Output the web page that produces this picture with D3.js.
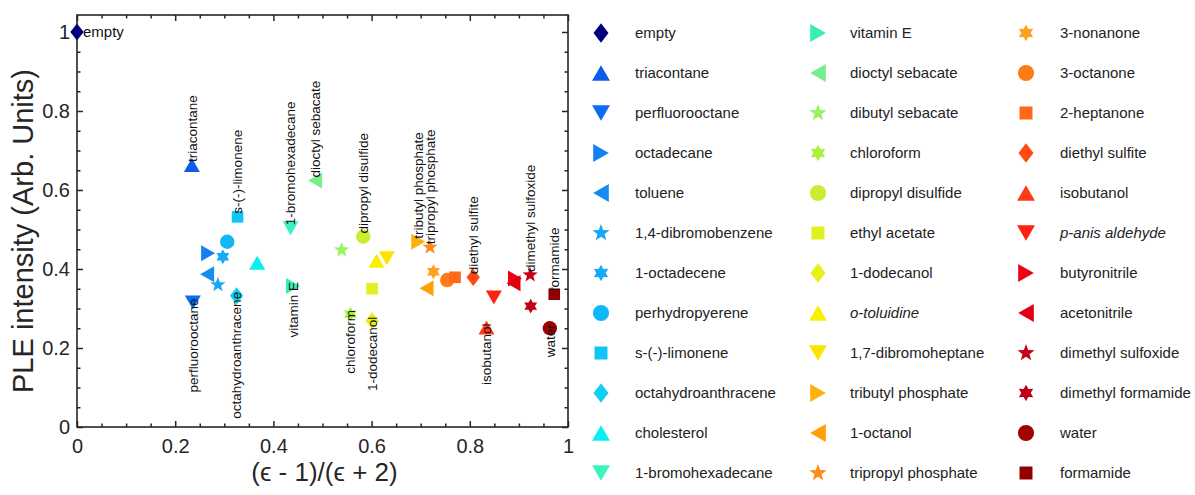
<!DOCTYPE html>
<html>
<head>
<meta charset="utf-8">
<script src="https://cdn.jsdelivr.net/npm/d3@7"></script>
<style>
  body { margin: 0; background: #fff; }
  text { font-family: "Liberation Sans", Arial, sans-serif; }
</style>
</head>
<body>
<svg id="chart" width="1195" height="495"></svg>
<script>
// Solvents in legend order, with the Clausius–Mossotti factor (ε-1)/(ε+2)
// and the normalised PLE intensity measured in each.
const solvents = [
  "empty", "triacontane", "perfluorooctane", "octadecane", "toluene",
  "1,4-dibromobenzene", "1-octadecene", "perhydropyerene", "s-(-)-limonene",
  "octahydroanthracene", "cholesterol", "1-bromohexadecane",
  "vitamin E", "dioctyl sebacate", "dibutyl sebacate", "chloroform",
  "dipropyl disulfide", "ethyl acetate", "1-dodecanol", "o-toluidine",
  "1,7-dibromoheptane", "tributyl phosphate", "1-octanol", "tripropyl phosphate",
  "3-nonanone", "3-octanone", "2-heptanone", "diethyl sulfite", "isobutanol",
  "p-anis aldehyde", "butyronitrile", "acetonitrile", "dimethyl sulfoxide",
  "dimethyl formamide", "water", "formamide"
];

const epsFactor = [
  0.000, 0.234, 0.236, 0.267, 0.265,
  0.287, 0.297, 0.306, 0.327,
  0.325, 0.367, 0.435,
  0.440, 0.485, 0.539, 0.557,
  0.583, 0.601, 0.601, 0.610,
  0.631, 0.695, 0.712, 0.719,
  0.726, 0.754, 0.770, 0.807, 0.834,
  0.849, 0.892, 0.889, 0.923,
  0.924, 0.963, 0.972
];

const pleIntensity = [
  1.000, 0.663, 0.315, 0.440, 0.387,
  0.360, 0.431, 0.469, 0.532,
  0.332, 0.416, 0.503,
  0.357, 0.624, 0.448, 0.286,
  0.482, 0.350, 0.269, 0.421,
  0.427, 0.469, 0.351, 0.455,
  0.393, 0.372, 0.379, 0.379, 0.252,
  0.328, 0.376, 0.364, 0.385,
  0.306, 0.250, 0.336
];

const xTickValues = [0, 0.2, 0.4, 0.6, 0.8, 1];
const xTickLabels = ["0", "0.2", "0.4", "0.6", "0.8", "1"];
const yTickValues = [0, 0.2, 0.4, 0.6, 0.8, 1];
const yTickLabels = ["0", "0.2", "0.4", "0.6", "0.8", "1"];

// Which points carry an in-plot name, and on which side of the marker.
const labelsAbove = ["triacontane", "s-(-)-limonene", "1-bromohexadecane", "dioctyl sebacate",
  "dipropyl disulfide", "tributyl phosphate", "tripropyl phosphate", "diethyl sulfite",
  "dimethyl sulfoxide", "formamide"];
const labelsBelow = ["perfluorooctane", "octahydroanthracene", "vitamin E", "chloroform",
  "1-dodecanol", "isobutanol", "water"];
const labelsRight = ["empty"];
const italicNames = ["o-toluidine", "p-anis aldehyde"];

// Marker cycle and colour ramp (navy → blue → cyan → green → yellow → orange → red).
const markerCycle = ["diamond", "up", "down", "right", "left", "star", "hexagram", "circle", "square"];
const palette = [
  "#00007f", "#0c5ee8", "#0a6cf2", "#1580f0", "#178cf0",
  "#18a6f6", "#14acf6", "#10b8f8", "#10c6f4",
  "#10d0f2", "#00f2f2", "#3cf2c0",
  "#38eea8", "#76ee8e", "#98f45e", "#aaf040",
  "#c8ee30", "#e0f020", "#e8f018", "#f8f000",
  "#fce400", "#ffb010", "#ffa008", "#ff8c1a",
  "#ffa020", "#ff7a18", "#ff6a18", "#ff4a14", "#ff3a14",
  "#ff2210", "#f00014", "#e00012", "#c80018",
  "#c00018", "#a00000", "#900000"
];

const W = 1195, H = 495;
const plot = { left: 77, right: 568, top: 15, bottom: 427 };
const ink = "#262626";

const svg = d3.select("#chart");
const x = d3.scaleLinear().domain([0, 1]).range([plot.left, plot.right]);
const y = d3.scaleLinear().domain([0, 1.043]).range([plot.bottom, plot.top]);

function shapePath(kind, s) {
  const p = d3.path();
  const poly = pts => { p.moveTo(pts[0][0], pts[0][1]); pts.slice(1).forEach(q => p.lineTo(q[0], q[1])); p.closePath(); };
  const b = 16 * s, h = 14 * s;
  switch (kind) {
    case "diamond": { const w = 6.7 * s, t = 8.6 * s; poly([[0, -t], [w, 0], [0, t], [-w, 0]]); break; }
    case "up":    poly([[0, -h / 2], [b / 2, h / 2], [-b / 2, h / 2]]); break;
    case "down":  poly([[0, h / 2], [b / 2, -h / 2], [-b / 2, -h / 2]]); break;
    case "right": poly([[h / 2, 0], [-h / 2, -b / 2], [-h / 2, b / 2]]); break;
    case "left":  poly([[-h / 2, 0], [h / 2, -b / 2], [h / 2, b / 2]]); break;
    case "circle": p.arc(0, 0, 7.2 * s, 0, 2 * Math.PI); break;
    case "square": { const a = 5.8 * s; poly([[-a, -a], [a, -a], [a, a], [-a, a]]); break; }
    case "star": {
      const R = 8 * s, r = 3.3 * s, pts = [];
      for (let i = 0; i < 10; i++) {
        const ang = -Math.PI / 2 + i * Math.PI / 5, rad = i % 2 ? r : R;
        pts.push([rad * Math.cos(ang), rad * Math.sin(ang)]);
      }
      poly(pts); break;
    }
    case "hexagram": {
      const R = 7.4 * s, r = 4.2 * s, pts = [];
      for (let i = 0; i < 12; i++) {
        const ang = -Math.PI / 2 + i * Math.PI / 6, rad = i % 2 ? r : R;
        pts.push([rad * Math.cos(ang), rad * Math.sin(ang)]);
      }
      poly(pts); break;
    }
  }
  return p.toString();
}

const points = solvents.map((name, i) => ({
  name, ex: epsFactor[i], ple: pleIntensity[i],
  shape: markerCycle[i % markerCycle.length], color: palette[i]
}));

// ---- axes: inward major and minor ticks on all four sides ----
const minorTicks = d3.range(0, 1.0001, 0.05).map(v => +v.toFixed(2)).filter(v => !xTickValues.includes(v));
const minorY = minorTicks.filter(v => v <= 1.04);

function styleAxis(g) {
  g.select(".domain").remove();
  g.selectAll(".tick line").attr("stroke", ink).attr("stroke-width", 1.5);
  g.selectAll(".tick text").attr("fill", ink).style("font-size", "20px");
}

svg.append("g").attr("transform", `translate(0,${plot.bottom})`)
  .call(d3.axisBottom(x).tickValues(xTickValues).tickFormat((d, i) => xTickLabels[i]).tickSize(-6).tickPadding(12))
  .call(styleAxis);
svg.append("g").attr("transform", `translate(0,${plot.bottom})`)
  .call(d3.axisBottom(x).tickValues(minorTicks).tickFormat("").tickSize(-3.5)).call(styleAxis);
svg.append("g").attr("transform", `translate(0,${plot.top})`)
  .call(d3.axisTop(x).tickValues(xTickValues).tickFormat("").tickSize(-6)).call(styleAxis);
svg.append("g").attr("transform", `translate(0,${plot.top})`)
  .call(d3.axisTop(x).tickValues(minorTicks).tickFormat("").tickSize(-3.5)).call(styleAxis);

svg.append("g").attr("transform", `translate(${plot.left},0)`)
  .call(d3.axisLeft(y).tickValues(yTickValues).tickFormat((d, i) => yTickLabels[i]).tickSize(-6).tickPadding(7))
  .call(styleAxis);
svg.append("g").attr("transform", `translate(${plot.left},0)`)
  .call(d3.axisLeft(y).tickValues(minorY).tickFormat("").tickSize(-3.5)).call(styleAxis);
svg.append("g").attr("transform", `translate(${plot.right},0)`)
  .call(d3.axisRight(y).tickValues(yTickValues).tickFormat("").tickSize(-6)).call(styleAxis);
svg.append("g").attr("transform", `translate(${plot.right},0)`)
  .call(d3.axisRight(y).tickValues(minorY).tickFormat("").tickSize(-3.5)).call(styleAxis);

svg.append("rect")
  .attr("x", plot.left).attr("y", plot.top)
  .attr("width", plot.right - plot.left).attr("height", plot.bottom - plot.top)
  .attr("fill", "none").attr("stroke", ink).attr("stroke-width", 1.6);

// axis titles
svg.append("text")
  .attr("transform", `translate(33,${(plot.top + plot.bottom) / 2 + 10}) rotate(-90)`)
  .attr("text-anchor", "middle").attr("fill", ink).style("font-size", "29px")
  .text("PLE intensity (Arb. Units)");
svg.append("text")
  .attr("x", (plot.left + plot.right) / 2 + 2).attr("y", 481)
  .attr("text-anchor", "middle").attr("fill", ink).style("font-size", "26px")
  .text("(\u03F5 - 1)/(\u03F5 + 2)");

// ---- markers ----
svg.append("g").selectAll("path").data(points).join("path")
  .attr("transform", d => `translate(${x(d.ex)},${y(d.ple)})`)
  .attr("d", d => shapePath(d.shape, 1))
  .attr("fill", d => d.color);

// ---- in-plot names ----
const lab = svg.append("g").attr("fill", "#111");
points.forEach(d => {
  const px = x(d.ex), py = y(d.ple);
  if (labelsRight.includes(d.name)) {
    lab.append("text").attr("x", px + 6).attr("y", py).attr("dy", "0.35em")
      .style("font-size", "15px").text(d.name);
  } else if (labelsAbove.includes(d.name) || labelsBelow.includes(d.name)) {
    const above = labelsAbove.includes(d.name);
    lab.append("text")
      .attr("transform", `translate(${px},${py + (above ? -3 : -4)}) rotate(-90)`)
      .attr("text-anchor", above ? "start" : "end")
      .attr("dy", "0.35em")
      .style("font-size", "13.5px")
      .text(d.name);
  }
});

// ---- legend: three columns of twelve ----
const legCols = [{ mx: 601, tx: 635 }, { mx: 818, tx: 850 }, { mx: 1026, tx: 1060 }];
const legend = svg.append("g");
points.forEach((d, i) => {
  const col = legCols[Math.floor(i / 12)], row = i % 12;
  const ly = 33 + row * 40;
  legend.append("path")
    .attr("transform", `translate(${col.mx},${ly})`)
    .attr("d", shapePath(d.shape, 1.12))
    .attr("fill", d.color);
  legend.append("text")
    .attr("x", col.tx).attr("y", ly).attr("dy", "0.35em")
    .attr("fill", "#222").style("font-size", "15px")
    .style("font-style", italicNames.includes(d.name) ? "italic" : "normal")
    .text(d.name);
});
</script>
</body>
</html>
